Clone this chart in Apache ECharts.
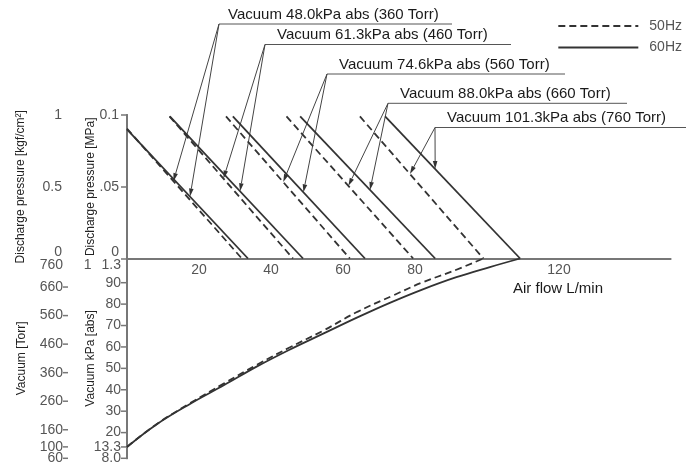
<!DOCTYPE html>
<html>
<head>
<meta charset="utf-8">
<script src="https://cdn.jsdelivr.net/npm/echarts@6/dist/echarts.min.js"></script>
<style>
  html, body { margin: 0; padding: 0; background: #fff; }
  #chart { width: 689px; height: 468px; }
</style>
</head>
<body>
<div id="chart"></div>
<script>
/* ---------- data ---------- */
const vacuumKPa  = ['48.0', '61.3', '74.6', '88.0', '101.3'];
const vacuumTorr = ['360', '460', '560', '660', '760'];

// discharge lines (MPa vs L/min): start point, end at 0 MPa
const hz60FlowStart  = [0, 11.9, 29.4, 48.1, 71.7];
const hz60PressStart = [0.090, 0.099, 0.099, 0.099, 0.099];
const hz60FlowEnd    = [33.6, 48.9, 66.1, 85.6, 109.2];
const hz50FlowStart  = [0, 11.8, 27.5, 44.3, 64.7];
const hz50PressStart = [0.0905, 0.099, 0.099, 0.099, 0.099];
const hz50FlowEnd    = [31.9, 46.1, 61.9, 79.5, 99.0];

// vacuum curves (kPa abs vs L/min)
const vacFlow60 = [0, 8, 17.5, 27, 36, 45, 54.5, 64, 73, 82, 91.5, 100.8, 109.2];
const vacKPa60  = [13.3, 23.6, 33.4, 42.2, 50.8, 58.6, 66.2, 73.8, 80.6, 86.8, 92.6, 97.3, 101.3];
const vacFlow50 = [0, 8, 17.5, 27, 36, 45, 54.5, 64, 74, 82, 90.5, 99];
const vacKPa50  = [13.3, 23.7, 33.7, 43, 51.6, 59.6, 67.6, 76.4, 84.1, 90.1, 95.4, 101.3];

// ticks (split in two sets so close labels are not auto-hidden)
const flowTicks  = [20, 40, 60, 80, 120];
const torrTicksA = [60, 160, 360, 560, 760];
const torrTicksB = [100, 260, 460, 660];
const kpaTicksA  = [8, 20, 40, 60, 80, 101.3];
const kpaTicksB  = [13.3, 30, 50, 70, 90];

// flow value where each label's arrows touch the 50Hz / 60Hz line
const arrow50Flow = [12.9, 26.8, 43.4, 61.5, 78.6];
const arrow60Flow = [17.5, 31.4, 49, 67.5, 85.6];

/* ---------- layout ---------- */
const FONT = '"Liberation Sans", Arial, sans-serif';
const labelOrigin  = [[219, 24], [265, 44.5], [327, 74], [388, 103.3], [435, 127.5]];
const labelTextX   = [228, 277, 339, 400, 447];
const labelLineEnd = [452, 511, 565, 627, 686];

const chart = echarts.init(document.getElementById('chart'));

const TXT = '#555';
const axisLine  = { show: true, lineStyle: { color: '#777', width: 2 } };
const tickStyle = { color: '#777', width: 1.5 };
const labelBase = { fontFamily: FONT, fontSize: 14, color: TXT, lineHeight: 13 };
const nameStyle = { fontFamily: FONT, fontSize: 12, color: '#222' };
const tickRich  = (w) => ({
    t: { width: w, height: 1.5, backgroundColor: '#777', verticalAlign: 'middle' },
    s: { width: w },
    p: { fontFamily: FONT, fontSize: 14, color: TXT, lineHeight: 13, padding: [0, 10, 0, 0] },
});
const torrFmt = v => (v === 760 ? '\n760{s|}' : v + '{t|}');
const kpaFmt = v => {
    if (Math.abs(v - 101.3) < 0.01) return '\n{p|1}1.3{s|}';
    if (v < 9) return '8.0{t|}';
    return v + '{t|}';
};

const dashLine  = { color: '#333', width: 1.8, type: [7, 4] };
const solidLine = { color: '#333', width: 1.8 };

const series = [];
vacuumKPa.forEach((v, i) => {
    series.push({
        name: '50Hz', type: 'line', xAxisIndex: 0, yAxisIndex: 1, color: '#333',
        symbol: 'none', lineStyle: dashLine, silent: true,
        data: [[hz50FlowStart[i], hz50PressStart[i]], [hz50FlowEnd[i], 0]],
    });
    series.push({
        name: '60Hz', type: 'line', xAxisIndex: 0, yAxisIndex: 1, color: '#333',
        symbol: 'none', lineStyle: solidLine, silent: true,
        data: [[hz60FlowStart[i], hz60PressStart[i]], [hz60FlowEnd[i], 0]],
    });
});
series.push({
    name: '50Hz', type: 'line', xAxisIndex: 1, yAxisIndex: 3, smooth: 0.4, color: '#333',
    symbol: 'none', lineStyle: dashLine, silent: true,
    data: vacFlow50.map((f, i) => [f, vacKPa50[i]]),
});
series.push({
    name: '60Hz', type: 'line', xAxisIndex: 1, yAxisIndex: 3, smooth: 0.4, color: '#333',
    symbol: 'none', lineStyle: solidLine, silent: true,
    data: vacFlow60.map((f, i) => [f, vacKPa60[i]]),
});

// a vacuum axis (Torr or kPa) on the lower grid
function vacAxis(min, max, offset, ticks, fmt, tickW, named, nameText, nameGap) {
    return {
        type: 'value', gridIndex: 1, min: min, max: max, position: 'left', offset: offset,
        name: named ? nameText : '', nameLocation: 'middle', nameGap: nameGap,
        nameMoveOverlap: false, nameTextStyle: nameStyle,
        axisLine: named ? axisLine : { show: false },
        splitLine: { show: false }, axisTick: { show: false },
        axisLabel: Object.assign({}, labelBase, {
            margin: 0, customValues: ticks, hideOverlap: false,
            formatter: fmt, rich: tickRich(tickW),
        }),
    };
}

const X_MAX = 151;
const option = {
    animation: false,
    grid: [
        { left: 127, top: 115, width: X_MAX * 3.6, height: 143.5 },
        { left: 127, top: 258.5, width: X_MAX * 3.6, height: 199.8 },
    ],
    legend: {
        data: ['50Hz', '60Hz'], orient: 'vertical', right: 2, top: 14,
        itemWidth: 80, itemHeight: 14, itemGap: 7.5, selectedMode: false,
        itemStyle: { opacity: 0 },
        textStyle: { fontFamily: FONT, fontSize: 14, color: TXT, padding: [0, 0, 0, 6] },
    },
    xAxis: [
        {
            type: 'value', gridIndex: 0, min: 0, max: X_MAX,
            axisLine: axisLine, splitLine: { show: false }, axisTick: { show: false },
            axisLabel: {
                customValues: flowTicks, margin: 5,
                fontFamily: FONT, fontSize: 14, color: TXT,
            },
        },
        { type: 'value', gridIndex: 1, min: 0, max: X_MAX, show: false },
    ],
    yAxis: [
        {   // kgf/cm2
            type: 'value', gridIndex: 0, min: 0, max: 1, interval: 0.5,
            position: 'left', offset: 59,
            name: 'Discharge pressure [kgf/cm²]', nameLocation: 'middle', nameGap: 41,
            nameMoveOverlap: false, nameTextStyle: nameStyle,
            axisLine: axisLine, splitLine: { show: false },
            axisTick: { show: true, length: 5, lineStyle: tickStyle },
            axisLabel: Object.assign({}, labelBase, {
                margin: 6,
                formatter: v => (v === 0 ? '0\n' : String(v)),
            }),
        },
        {   // MPa
            type: 'value', gridIndex: 0, min: 0, max: 0.1, interval: 0.05,
            position: 'left',
            name: 'Discharge pressure [MPa]', nameLocation: 'middle', nameGap: 30,
            nameMoveOverlap: false, nameTextStyle: nameStyle,
            axisLine: axisLine, splitLine: { show: false },
            axisTick: { show: true, length: 6, lineStyle: tickStyle },
            axisLabel: Object.assign({}, labelBase, {
                margin: 8,
                formatter: v => (v === 0 ? '0\n' : (Math.abs(v - 0.05) < 1e-6 ? '.05' : '0.1')),
            }),
        },
        vacAxis(60, 760, 59, torrTicksA, torrFmt, 5, true, 'Vacuum [Torr]', 40),
        vacAxis(8, 101.3, 0, kpaTicksA, kpaFmt, 6, true, 'Vacuum kPa [abs]', 30),
        vacAxis(60, 760, 59, torrTicksB, torrFmt, 5, false),
        vacAxis(8, 101.3, 0, kpaTicksB, kpaFmt, 6, false),
    ],
    series: series,
};
chart.setOption(option);

/* ---------- labels with arrows ---------- */
function pressAt(fs, ps, fe, f) {
    return ps * (fe - f) / (fe - fs);
}
function arrow(o, t) {
    const dx = t[0] - o[0], dy = t[1] - o[1];
    const len = Math.sqrt(dx * dx + dy * dy);
    const ux = dx / len, uy = dy / len;
    const bx = t[0] - ux * 8, by = t[1] - uy * 8;
    const nx = -uy * 2.3, ny = ux * 2.3;
    return [
        { type: 'line', silent: true, shape: { x1: o[0], y1: o[1], x2: bx, y2: by },
          style: { stroke: '#444', lineWidth: 1 } },
        { type: 'polygon', silent: true,
          shape: { points: [[t[0], t[1]], [bx + nx, by + ny], [bx - nx, by - ny]] },
          style: { fill: '#333' } },
    ];
}

const graphic = [];
vacuumKPa.forEach((v, i) => {
    const o = labelOrigin[i];
    graphic.push({
        type: 'line', silent: true,
        shape: { x1: o[0], y1: o[1], x2: labelLineEnd[i], y2: o[1] },
        style: { stroke: '#555', lineWidth: 1 },
    });
    graphic.push({
        type: 'text', silent: true, x: labelTextX[i], y: o[1] - 9.5,
        style: {
            text: 'Vacuum ' + v + 'kPa abs (' + vacuumTorr[i] + ' Torr)',
            fontFamily: FONT, fontSize: 15, fill: '#1a1a1a', verticalAlign: 'middle',
        },
    });
    const p50 = pressAt(hz50FlowStart[i], hz50PressStart[i], hz50FlowEnd[i], arrow50Flow[i]);
    const p60 = pressAt(hz60FlowStart[i], hz60PressStart[i], hz60FlowEnd[i], arrow60Flow[i]);
    const t50 = chart.convertToPixel({ xAxisIndex: 0, yAxisIndex: 1 }, [arrow50Flow[i], p50]);
    const t60 = chart.convertToPixel({ xAxisIndex: 0, yAxisIndex: 1 }, [arrow60Flow[i], p60]);
    graphic.push(...arrow(o, t50), ...arrow(o, t60));
});
graphic.push({
    type: 'text', silent: true, x: 513, y: 289,
    style: { text: 'Air flow L/min', fontFamily: FONT, fontSize: 15, fill: '#1a1a1a', verticalAlign: 'middle' },
});
chart.setOption({ graphic: graphic });
</script>
</body>
</html>
